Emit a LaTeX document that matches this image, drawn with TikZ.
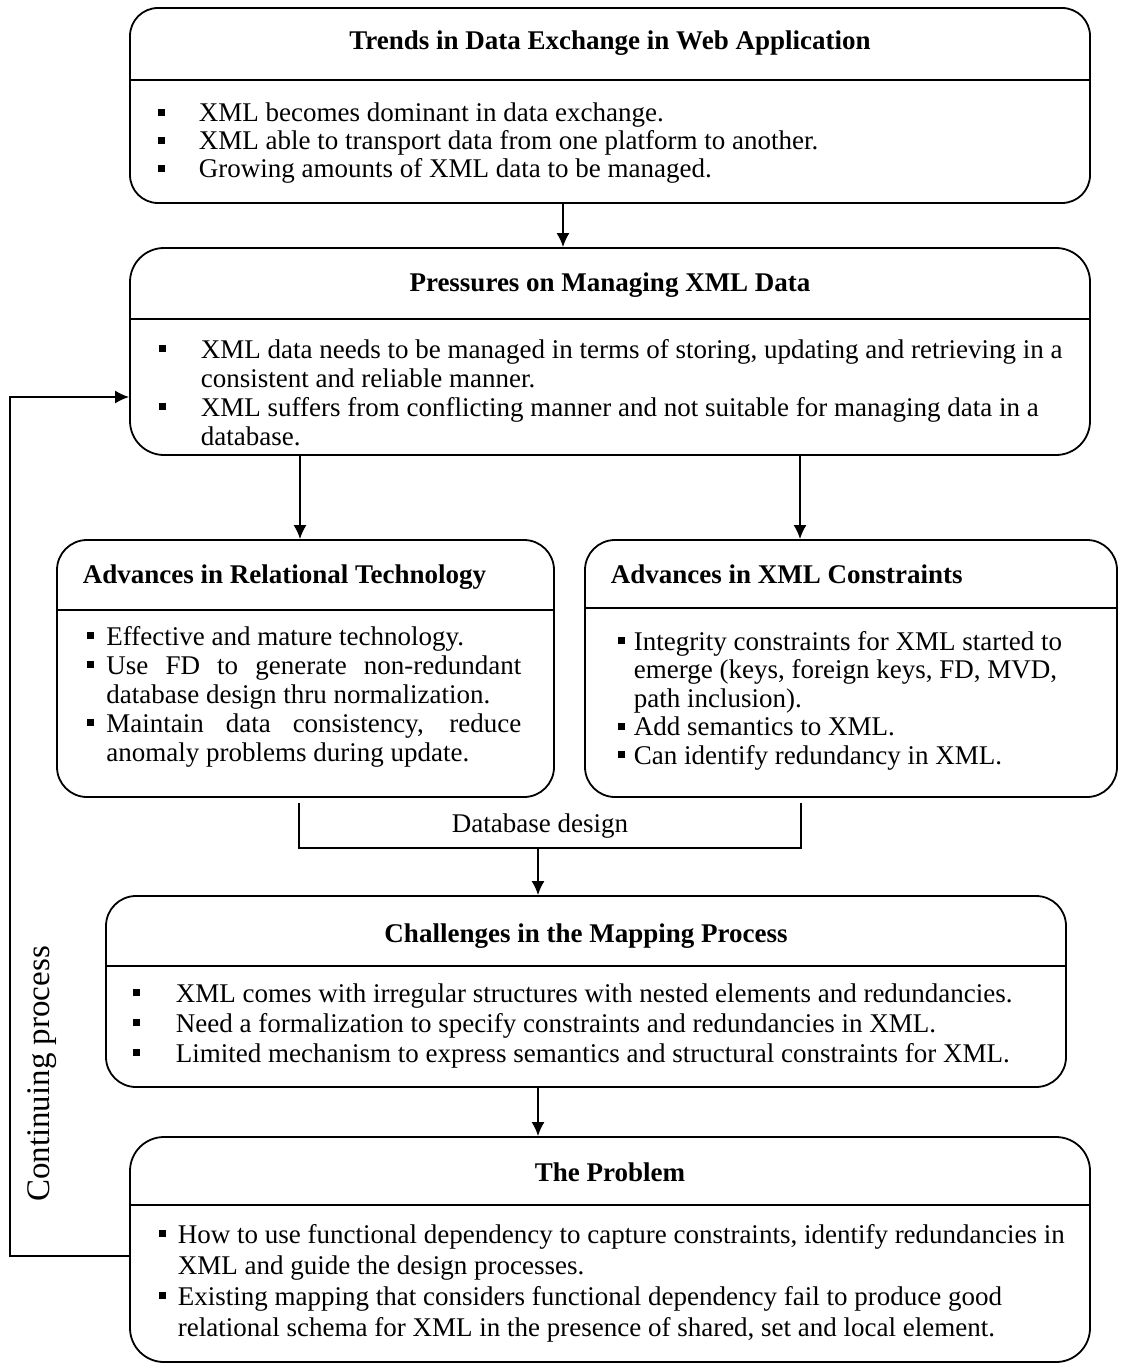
\documentclass[tikz,border=0pt]{standalone}
\usepackage{fontspec}
\setmainfont{Liberation Serif}
\usetikzlibrary{arrows.meta}
% square bullet and hanging item
\newcommand{\sqbul}{\rule[3pt]{3.4pt}{3.4pt}}
\newcommand{\bitem}[2]{\noindent\hangindent=#1\hangafter=1\makebox[#1][l]{\sqbul}#2\par}
\newenvironment{bullist}[1]{\begin{minipage}[t]{#1}\raggedright}{\end{minipage}}
\newenvironment{jbullist}[1]{\begin{minipage}[t]{#1}}{\end{minipage}}

\begin{document}
\begin{tikzpicture}[x=0.5pt, y=-0.5pt, line width=0.9pt, >={Latex[length=7pt,width=6.5pt]},
    every node/.style={font=\fontsize{13.5pt}{14.5pt}\selectfont}]
    \tikzstyle{panel} = [rectangle, rounded corners=14pt, draw, inner sep=0pt, minimum width=480pt]
    \tikzstyle{heading} = [inner sep=0pt, font=\fontsize{13.5pt}{14.5pt}\selectfont\bfseries]
    \tikzstyle{itemlist} = [inner sep=0pt, anchor=base west]

    \useasboundingbox (0,0) rectangle (1120,1369);

    % Trends
    \node [panel, minimum height=97.5pt] (trends) at (610,105.5) {};
    \draw (trends.west |- 0,80) -- (trends.east |- 0,80);
    \node [heading] (trendshead) at (610,43) {Trends in Data Exchange in Web Application};
    \node [itemlist, font=\fontsize{13.5pt}{14pt}\selectfont] (trendslist) at (157,122) {\begin{bullist}{464pt}
      \bitem{20.5pt}{XML becomes dominant in data exchange.}
      \bitem{20.5pt}{XML able to transport data from one platform to another.}
      \bitem{20.5pt}{Growing amounts of XML data to be managed.}
    \end{bullist}};

    % Pressures
    \node [panel, rounded corners=17pt, minimum height=103.5pt] (pressures) at (610,351.5) {};
    \draw (pressures.west |- 0,319) -- (pressures.east |- 0,319);
    \node [heading] (pressureshead) at (610,285) {Pressures on Managing XML Data};
    \node [itemlist] (pressureslist) at (158,358) {\begin{bullist}{470pt}
      \bitem{21pt}{XML data needs to be managed in terms of storing, updating and retrieving in a\newline consistent and reliable manner.}
      \bitem{21pt}{XML suffers from conflicting manner and not suitable for managing data in a\newline database.}
    \end{bullist}};

    % Relational technology
    \node [panel, rounded corners=15pt, minimum width=248.5pt, minimum height=128.5pt] (reltech) at (305.5,668.5) {};
    \draw (reltech.west |- 0,610) -- (reltech.east |- 0,610);
    \node [heading, anchor=base west] (reltechhead) at (82,583) {Advances in Relational Technology};
    \node [itemlist] (reltechlist) at (86.5,645) {\begin{jbullist}{217pt}
      \bitem{9.5pt}{Effective and mature technology.}
      \bitem{9.5pt}{Use FD to generate non-redundant\linebreak database design thru normalization.}
      \bitem{9.5pt}{Maintain data consistency, reduce\linebreak anomaly problems during update.}
    \end{jbullist}};

    % XML constraints
    \node [panel, rounded corners=15pt, minimum width=266pt, minimum height=128.5pt] (xmlcons) at (851,668.5) {};
    \draw (xmlcons.west |- 0,608) -- (xmlcons.east |- 0,608);
    \node [heading, anchor=base west] (xmlconshead) at (610,583) {Advances in XML Constraints};
    \node [itemlist, font=\fontsize{13.5pt}{14.25pt}\selectfont] (xmlconslist) at (617,650) {\begin{bullist}{250pt}
      \bitem{8pt}{Integrity constraints for XML started to\newline emerge (keys, foreign keys, FD, MVD,\newline path inclusion).}
      \bitem{8pt}{Add semantics to XML.}
      \bitem{8pt}{Can identify redundancy in XML.}
    \end{bullist}};

    % Challenges
    \node [panel, rounded corners=15pt, minimum height=95.5pt] (challenges) at (586,991.5) {};
    \draw (challenges.west |- 0,966) -- (challenges.east |- 0,966);
    \node [heading] (challengeshead) at (586,936) {Challenges in the Mapping Process};
    \node [itemlist, font=\fontsize{13.5pt}{15pt}\selectfont] (challengeslist) at (132,1002) {\begin{bullist}{470pt}
      \bitem{21.5pt}{XML comes with irregular structures with nested elements and redundancies.}
      \bitem{21.5pt}{Need a formalization to specify constraints and redundancies in XML.}
      \bitem{21.5pt}{Limited mechanism to express semantics and structural constraints for XML.}
    \end{bullist}};

    % Problem
    \node [panel, rounded corners=17pt, minimum height=112.5pt] (problem) at (610,1249.5) {};
    \draw (problem.west |- 0,1205) -- (problem.east |- 0,1205);
    \node [heading] (problemhead) at (610,1172) {The Problem};
    \node [itemlist, font=\fontsize{13.5pt}{15.5pt}\selectfont] (problemlist) at (158,1243) {\begin{bullist}{470pt}
      \bitem{9.5pt}{How to use functional dependency to capture constraints, identify redundancies in\newline XML and guide the design processes.}
      \bitem{9.5pt}{Existing mapping that considers functional dependency fail to produce good\newline relational schema for XML in the presence of shared, set and local element.}
    \end{bullist}};

    % Connections
    \draw [->] ([xshift=-23.5pt]trends.south) -- ([xshift=-23.5pt]pressures.north);
    \draw [->] ([xshift=-155pt]pressures.south) -- ([xshift=-2.75pt]reltech.north);
    \draw [->] ([xshift=95pt]pressures.south) -- ([xshift=-25.5pt]xmlcons.north);

    \coordinate (dbjoin) at (538,848);
    \draw ([xshift=-3.25pt,yshift=-2.5pt]reltech.south) |- (dbjoin) -| ([xshift=-25pt,yshift=-2.5pt]xmlcons.south);
    \node (dbnote) at (540,826) {Database design};
    \draw [->] (dbjoin) -- ([xshift=-24pt]challenges.north);
    \draw [->] ([xshift=-24pt]challenges.south) -- ([xshift=-36pt]problem.north);

    % Feedback loop
    \coordinate (loopturn) at (10,1256);
    \draw [->] ([yshift=-3.25pt]problem.west) -- (loopturn) |- ([yshift=-22.75pt]pressures.west);
    \node [rotate=90, inner sep=0pt, font=\fontsize{16.5pt}{18pt}\selectfont] (loopnote) at (42,1074) {Continuing process};
\end{tikzpicture}
\end{document}
